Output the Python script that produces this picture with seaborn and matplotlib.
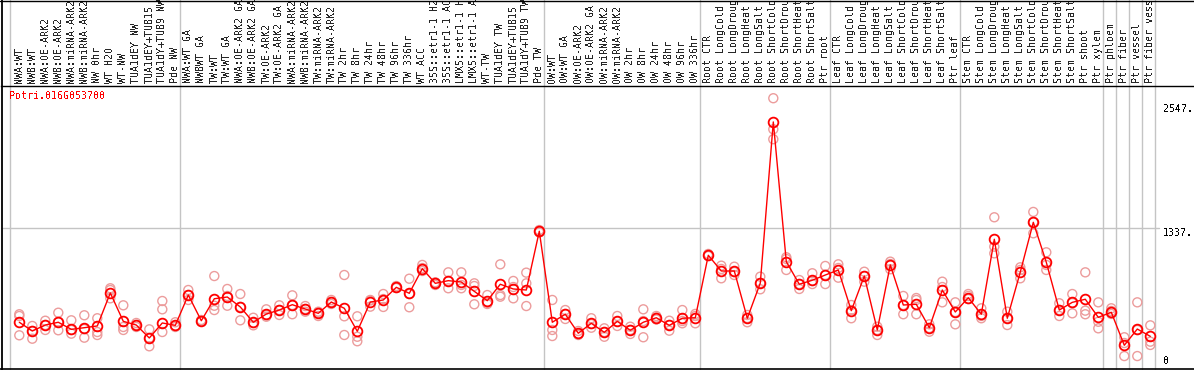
import numpy as np
import pandas as pd
import matplotlib
matplotlib.use('Agg')
import matplotlib.pyplot as plt
from matplotlib.lines import Line2D
import seaborn as sns

# sample labels, read left to right (as far as they show in the header strip)
samples = ['NWA:WT', 'NWB:WT', 'NWA:OE-ARK2', 'NWB:OE-ARK2', 'NWA:miRNA-ARK2', 'NWB:miRNA-ARK2',
           'NW 0hr', 'WT H2O', 'WT-NW', 'TUA1dEY NW', 'TUA1dEY+TUB15', 'TUA1dY+TUB9 NW', 'Pde NW',
           'NWA:WT GA', 'NWBWT GA', 'TW:WT', 'TW:WT GA', 'NWA:OE-ARK2 GA', 'NWB:OE-ARK2 GA',
           'TW:OE-ARK2', 'TW:OE-ARK2 GA', 'NWA:miRNA-ARK2', 'NWB:miRNA-ARK2', 'TW:miRNA-ARK2',
           'TW:miRNA-ARK2', 'TW 2hr', 'TW 8hr', 'TW 24hr', 'TW 48hr', 'TW 96hr', 'TW 336hr', 'WT ACC',
           '35S::etr1-1 H2', '35S::etr1-1 AC', 'LMX5::etr1-1 H', 'LMX5::etr1-1 A', 'WT-TW',
           'TUA1dEY TW', 'TUA1dEY+TUB15', 'TUA1dY+TUB9 TW', 'Pde TW',
           'OW:WT', 'OW:WT GA', 'OW:OE-ARK2', 'OW:OE-ARK2 GA', 'OW:miRNA-ARK2', 'OW:miRNA-ARK2',
           'OW 2hr', 'OW 8hr', 'OW 24hr', 'OW 48hr', 'OW 96hr', 'OW 336hr',
           'Root CTR', 'Root LongCold', 'Root LongDroug', 'Root LongHeat', 'Root LongSalt',
           'Root ShortCold', 'Root ShortDrou', 'Root ShortHeat', 'Root ShortSalt', 'Ptr root',
           'Leaf CTR', 'Leaf LongCold', 'Leaf LongDroug', 'Leaf LongHeat', 'Leaf LongSalt',
           'Leaf ShortCold', 'Leaf ShortDrou', 'Leaf ShortHeat', 'Leaf ShortSalt', 'Ptr leaf',
           'Stem CTR', 'Stem LongCold', 'Stem LongDroug', 'Stem LongHeat', 'Stem LongSalt',
           'Stem ShortCold', 'Stem ShortDrou', 'Stem ShortHeat', 'Stem ShortSalt', 'Ptr shoot',
           'Ptr xylem', 'Ptr phloem', 'Ptr fiber', 'Ptr vessel', 'Ptr fiber vess']

group_sizes = [13, 28, 12, 10, 10, 11, 1, 1, 1, 1]

means = [422, 337, 395, 422, 353, 369, 386, 707, 431, 395, 269, 415, 392,
         687, 437, 651, 668, 571, 422, 502, 541, 593, 551, 509, 619, 558, 334, 619,
         639, 762, 704, 944, 801, 827, 814, 723, 632, 792, 746, 736, 1308,
         422, 500, 315, 412, 324, 431, 344, 422, 466, 392, 461, 466,
         1074, 921, 921, 461, 804, 2372, 1012, 792, 831, 882,
         931, 535, 872, 347, 980, 590, 597, 369, 736, 522,
         661, 500, 1230, 461, 911, 1395, 1006, 541, 616, 646, 470,
         519, 198, 356, 285]

rep1 = [500, 386, 437, 515, 441, 490, 461, 753, 587, 415, 353, 629, 422,
        736, 444, 872, 746, 697, 466, 548, 587, 684, 580, 525, 639, 882, 480, 639,
        697, 775, 846, 980, 811, 908, 908, 801, 687, 986, 824, 905, 1320,
        639, 541, 298, 461, 363, 483, 379, 548, 483, 437, 541, 503,
        1087, 973, 963, 493, 866, 2603, 1055, 833, 899, 970,
        986, 590, 914, 379, 1012, 678, 658, 402, 817, 616,
        697, 558, 1444, 525, 957, 1496, 1103, 607, 697, 908, 616,
        558, 276, 616, 392]

rep2 = [483, 262, 347, 344, 311, 272, 327, 655, 347, 376, 188, 548, 376,
        639, 434, 583, 583, 441, 392, 476, 493, 500, 525, 483, 619, 480, 281, 574,
        571, 756, 568, 921, 785, 753, 753, 597, 612, 687, 655, 801, 1296,
        347, 503, 337, 369, 281, 386, 347, 276, 449, 340, 412, 412,
        1067, 850, 882, 422, 743, 2301, 931, 746, 794, 794,
        856, 461, 817, 298, 938, 500, 500, 330, 616, 402,
        678, 461, 1158, 395, 850, 1288, 931, 483, 509, 535, 427,
        532, 93, 93, 233]

rep3 = [295, 337, 395, 425, 347, 356, 298, 736, 376, 395, 269, 327, 386,
        687, 429, 541, 678, 571, 415, 493, 541, 590, 551, 512, 600, 298, 237, 634,
        648, 760, 697, 950, 804, 824, 785, 775, 600, 671, 765, 580, 1306,
        288, 454, 308, 405, 327, 429, 308, 434, 468, 395, 434, 483,
        1072, 941, 911, 463, 804, 2204, 1038, 794, 824, 882,
        950, 541, 872, 347, 989, 590, 639, 366, 765, 522,
        648, 483, 1093, 463, 931, 1398, 980, 541, 610, 500, 363,
        503, 220, 347, 201]

yticks = [0, 1337, 2547]
gene = 'Potri.016G053700'

W, H = 1194, 370
plt.rcParams['text.antialiased'] = False
sns.set_style('white')
plt.rcParams['font.family'] = ['DejaVu Sans Mono']

fig = plt.figure(figsize=(W / 100, H / 100), dpi=100)
ax = fig.add_axes([1 / W, 1 / H, (W - 1) / W, 283 / H])

df = pd.DataFrame({'pos': np.arange(len(samples)), 'mean': means})
reps = pd.DataFrame({'pos': np.tile(np.arange(len(samples)), 3),
                     'value': rep1 + rep2 + rep3})

# group separators
bounds = np.concatenate([[-1], np.cumsum(group_sizes) - 1]) + 0.38
bounds[0] = -0.69
for b in bounds:
    ax.axvline(b, ymin=0, ymax=369 / 283, color='#c4c4c4', lw=1.0, clip_on=False, zorder=0)
ax.axhline(1337, xmin=0, xmax=1158 / 1193, color='#c4c4c4', lw=1.0, zorder=0)

sns.scatterplot(data=reps, x='pos', y='value', ax=ax, marker='o', s=42,
                facecolor='none', edgecolor='#ec9c9c', linewidth=1.0, zorder=2)
sns.lineplot(data=df, x='pos', y='mean', ax=ax, color='#ff0000', lw=1.0,
             marker='o', markersize=7, markerfacecolor='none',
             markeredgecolor='#ff0000', markeredgewidth=1.3, zorder=3)

ax.set_xlim(-18.3 / 13, -18.3 / 13 + 1193 / 13)
ax.set_ylim(-33, 2722)
ax.set_xticks(df['pos'])
ax.set_xticklabels(samples, rotation=90, fontsize=7.2)
ax.xaxis.tick_top()
ax.tick_params(axis='x', length=0, pad=2)
ax.set_yticks([])
ax.set_xlabel('')
ax.set_ylabel('')

for sp in ['right', 'bottom']:
    ax.spines[sp].set_visible(False)
ax.spines['top'].set_color('black')
ax.spines['top'].set_linewidth(1.0)
ax.spines['left'].set_visible(False)

# outer frame lines
fig.add_artist(Line2D([1.5 / W, 1.5 / W], [0, 1], color='black', lw=1.3))
fig.add_artist(Line2D([0, 1], [1 - 0.5 / H, 1 - 0.5 / H], color='black', lw=1.0))
fig.add_artist(Line2D([0, 1], [1.2 / H, 1.2 / H], color='black', lw=1.2))

tx = ax.get_xlim()[0] + (1163 - 1) / 13
for v in yticks:
    lab = '0' if v == 0 else f'{v}.'
    ax.text(tx, v, lab, fontsize=7.2, va='bottom' if v == 0 else 'top', ha='left', color='black')

ax.text(ax.get_xlim()[0] + (9 - 1) / 13, 2620, gene, color='#ff0000', fontsize=7.2, va='center', ha='left')

fig.savefig('out.png', dpi=100)
